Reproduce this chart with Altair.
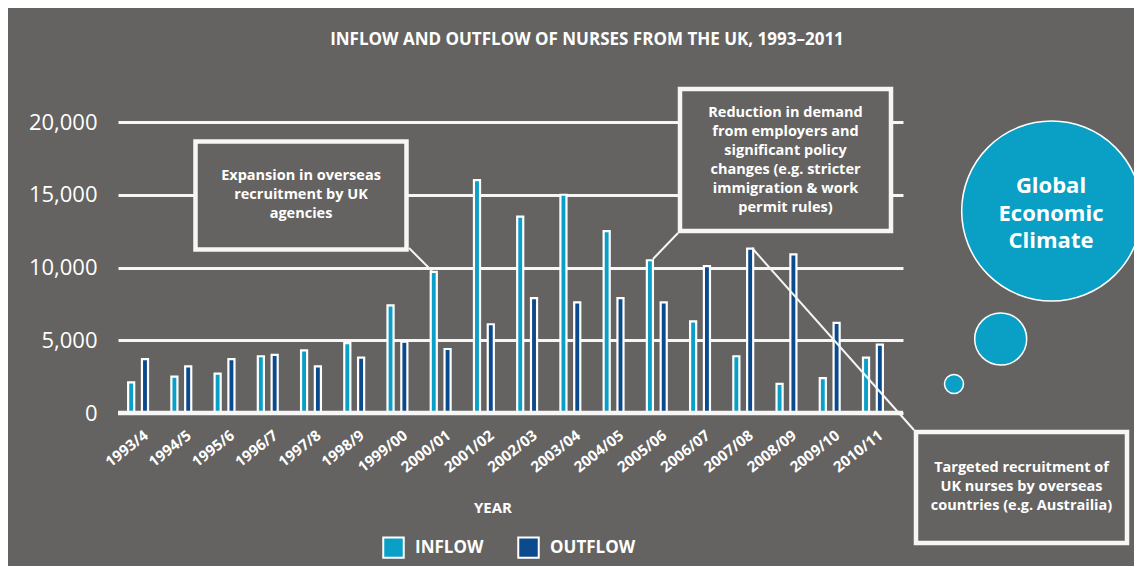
import altair as alt
import pandas as pd

# ---------------- data ----------------
years = ["1993/4", "1994/5", "1995/6", "1996/7", "1997/8", "1998/9", "1999/00",
         "2000/01", "2001/02", "2002/03", "2003/04", "2004/05", "2005/06",
         "2006/07", "2007/08", "2008/09", "2009/10", "2010/11"]
inflow = [2100, 2500, 2700, 3900, 4300, 4800, 7400, 9700, 16000, 13500, 15000,
          12500, 10500, 6300, 3900, 2000, 2400, 3800]
outflow = [3700, 3200, 3700, 4000, 3200, 3800, 4900, 4400, 6100, 7900, 7600,
           7900, 7600, 10100, 11300, 10900, 6200, 4700]
series = ["INFLOW", "OUTFLOW"]
series_colors = ["#0a9fc6", "#0b4a8c"]
y_ticks = [0, 5000, 10000, 15000, 20000]

title_text = "INFLOW AND OUTFLOW OF NURSES FROM THE UK, 1993\u20132011"
x_title = "YEAR"
note_expansion = "Expansion in overseas\nrecruitment by UK\nagencies"
note_reduction = ("Reduction in demand\nfrom employers and\nsignificant policy\n"
                  "changes (e.g. stricter\nimmigration & work\npermit rules)")
note_targeted = "Targeted recruitment of\nUK nurses by overseas\ncountries (e.g. Austrailia)"
bubble_text = "Global\nEconomic\nClimate"

# ---------------- styling / layout ----------------
BG = "#646361"
WHITE = "#f6f6f6"
BUBBLE = "#0aa0c5"
FONT = "Open Sans"
W, H = 785, 291

df = pd.DataFrame({
    "year": years * 2,
    "series": [series[0]] * len(years) + [series[1]] * len(years),
    "value": inflow + outflow,
})
one = pd.DataFrame({"k": [0]})

x_scale = alt.Scale(domain=years, paddingInner=0.54, paddingOuter=0.35, align=0.335)

bars = alt.Chart(df).mark_bar(stroke="white", strokeWidth=2.2, strokeJoin="miter").encode(
    x=alt.X("year:N", sort=years, scale=x_scale,
            axis=alt.Axis(title=None, labelAngle=-38, labelAlign="right",
                          labelBaseline="middle", labelFontSize=15,
                          labelFontWeight="bold", labelColor="white", labelFont=FONT,
                          labelPadding=20, labelOffset=8, domain=False, ticks=False,
                          tickSize=0, grid=False)),
    xOffset=alt.XOffset("series:N", sort=series,
                        scale=alt.Scale(domain=series, paddingInner=0.56, paddingOuter=0)),
    y=alt.Y("value:Q", scale=alt.Scale(domain=[0, 20000], nice=False),
            axis=alt.Axis(values=y_ticks, format=",.0f", title=None, labelFontSize=22,
                          labelColor="white", labelFont=FONT, domain=False, ticks=False,
                          tickSize=0, labelPadding=21, grid=True, gridColor=WHITE,
                          gridWidth=3, gridOpacity=1)),
    color=alt.Color("series:N", sort=series,
                    scale=alt.Scale(domain=series, range=series_colors),
                    legend=alt.Legend(orient="none", legendX=264, legendY=414,
                                      direction="horizontal", title=None,
                                      symbolType="square", symbolSize=420,
                                      symbolStrokeColor="white", symbolStrokeWidth=2,
                                      symbolOpacity=1, labelFontSize=17,
                                      labelFontWeight="bold", labelColor="white",
                                      labelFont=FONT, labelOffset=10, columnPadding=30,
                                      padding=0)),
)

baseline = alt.Chart(one).mark_rule(color=WHITE, strokeWidth=4.5).encode(
    y=alt.datum(0), x=alt.value(0), x2=alt.value(W))


def leader(x1, y1, x2, y2):
    return alt.Chart(one).mark_rule(color=WHITE, strokeWidth=2).encode(
        x=alt.value(x1), y=alt.value(y1), x2=alt.value(x2), y2=alt.value(y2))


def box(x1, y1, x2, y2):
    return alt.Chart(one).mark_rect(fill=BG, stroke=WHITE, strokeWidth=4.5).encode(
        x=alt.value(x1), y=alt.value(y1), x2=alt.value(x2), y2=alt.value(y2))


def note(txt, x, y, size=14.5, lh=19):
    return alt.Chart(one).mark_text(text=txt, lineBreak="\n", lineHeight=lh,
                                    font=FONT, fontSize=size, fontWeight="bold",
                                    color="white", align="center",
                                    baseline="middle").encode(
        x=alt.value(x), y=alt.value(y))


def bubble(x, y, size):
    return alt.Chart(one).mark_circle(fill=BUBBLE, stroke="white", strokeWidth=1.5,
                                      opacity=1).encode(
        x=alt.value(x), y=alt.value(y), size=alt.value(size))


layers = [
    bars,
    baseline,
    leader(291, 126, 314, 149),
    leader(560, 111, 535, 137),
    box(77.5, 19.5, 288.5, 127.5),
    box(562, -33, 773, 109),
    note(note_expansion, 183, 54),
    note(note_reduction, 667.5, -9),
    leader(634, 126, 796, 308),
    box(798, 310, 1009, 421),
    note(note_targeted, 903.5, 346),
    bubble(933.7, 89, 32400),
    bubble(882.7, 217, 2704),
    bubble(836, 262, 361),
    note(bubble_text, 933, 64, size=22, lh=27.5),
    note(title_text, 469, -82, size=17, lh=20),
    note(x_title, 375, 386, size=15, lh=18),
]

chart = alt.layer(*layers).properties(
    width=W, height=H,
    padding={"left": 110, "top": 114, "right": 231, "bottom": 153},
    autosize=alt.AutoSizeParams(type="none"),
    background=BG,
).configure_view(stroke=None)

chart.save("out.html", embed_options={"renderer": "svg", "actions": False})
